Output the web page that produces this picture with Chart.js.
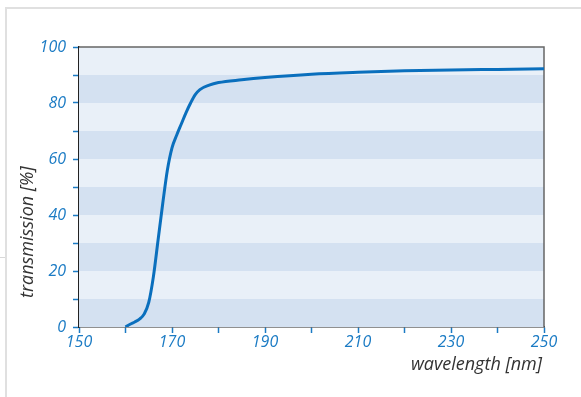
<!DOCTYPE html>
<html>
<head>
<meta charset="utf-8">
<script src="https://cdn.jsdelivr.net/npm/chart.js@4.4.1/dist/chart.umd.min.js"></script>
<style>
  html, body { margin: 0; padding: 0; background: #fff; }
  #wrap { position: relative; width: 581px; height: 397px; }
  #frame { position: absolute; left: 5px; top: 7px; right: 0; bottom: 0;
           border-left: 2px solid #e0e0e0; border-top: 2px solid #e0e0e0; }
  #stub { position: absolute; left: 0; top: 257px; width: 5px; height: 1px; background: #d8d8d8; }
  canvas { position: absolute; left: 0; top: 0; }
</style>
</head>
<body>
<div id="wrap">
  <div id="frame"></div>
  <div id="stub"></div>
  <canvas id="transChart" width="581" height="397"></canvas>
</div>
<script>
// Transmission curve
const wavelength = [160, 161, 162, 163, 164, 165, 166, 167, 168, 169, 170, 171, 172, 173, 174, 175, 176, 178, 180, 185, 190, 200, 210, 220, 230, 240, 250];
const transmission = [0, 1.0, 1.8, 2.8, 4.6, 8.8, 18, 31, 44, 56, 64, 68.5, 72.5, 76.5, 80, 83, 84.8, 86.4, 87.3, 88.3, 89.1, 90.3, 91.0, 91.5, 91.8, 92.0, 92.2];

const xTicks = [150, 160, 170, 180, 190, 200, 210, 220, 230, 240, 250];
const yTicks = [0, 10, 20, 30, 40, 50, 60, 70, 80, 90, 100];

const xTitle = 'wavelength [nm]';
const yTitle = 'transmission [%]';

const blue = '#1b7bc4';
const lineBlue = '#0a6fbd';
const fontFamily = '"Open Sans", sans-serif';

// alternating horizontal bands behind the curve, plus frame and axis titles
const bandPlugin = {
    id: 'bands',
    beforeDatasetsDraw(chart) {
        const { ctx, chartArea: a, scales: { y } } = chart;
        ctx.save();
        ctx.fillStyle = '#e9f0f8';
        ctx.fillRect(a.left, a.top, a.right - a.left, a.bottom - a.top);
        ctx.fillStyle = '#d4e1f1';
        for (let v = 0; v < 100; v += 20) {
            const y0 = y.getPixelForValue(v);
            const y1 = y.getPixelForValue(v + 10);
            ctx.fillRect(a.left, y1, a.right - a.left, y0 - y1);
        }
        // top and right border
        ctx.strokeStyle = '#666';
        ctx.lineWidth = 1.5;
        ctx.beginPath();
        ctx.moveTo(a.left, a.top);
        ctx.lineTo(a.right, a.top);
        ctx.lineTo(a.right, a.bottom);
        ctx.stroke();
        ctx.restore();
    },
    afterDraw(chart) {
        const { ctx, chartArea: a } = chart;
        ctx.save();
        ctx.fillStyle = '#333';
        ctx.font = 'italic 18px ' + fontFamily;
        ctx.textBaseline = 'middle';
        ctx.textAlign = 'right';
        ctx.fillText(xTitle, a.right - 2, a.bottom + 38);
        ctx.translate(28, a.bottom - 29);
        ctx.rotate(-Math.PI / 2);
        ctx.textAlign = 'left';
        ctx.fillText(yTitle, 0, 0);
        ctx.restore();
    }
};

const tickFont = { family: fontFamily, size: 16, style: 'italic' };

new Chart(document.getElementById('transChart'), {
    type: 'scatter',
    data: {
        datasets: [{
            data: wavelength.map((w, i) => ({ x: w, y: transmission[i] })),
            showLine: true,
            borderColor: lineBlue,
            borderWidth: 3,
            pointRadius: 0,
            cubicInterpolationMode: 'monotone'
        }]
    },
    options: {
        responsive: false,
        animation: false,
        layout: { padding: { top: 47, right: 37, left: 0, bottom: 0 } },
        plugins: { legend: { display: false }, tooltip: { enabled: false } },
        scales: {
            x: {
                type: 'linear',
                min: 150,
                max: 250,
                afterBuildTicks: s => { s.ticks = xTicks.map(v => ({ value: v })); },
                afterFit: s => { s.height = 70; },
                border: { color: '#222', width: 1.5 },
                grid: { drawOnChartArea: false, tickLength: 6, tickColor: blue, tickWidth: 1.5 },
                ticks: {
                    color: blue,
                    font: tickFont,
                    padding: 0,
                    maxRotation: 0,
                    autoSkip: false,
                    callback: v => (v % 20 === 10 ? v : '')
                }
            },
            y: {
                min: 0,
                max: 100,
                afterBuildTicks: s => { s.ticks = yTicks.map(v => ({ value: v })); },
                afterFit: s => { s.width = 79; },
                border: { color: '#222', width: 1.5 },
                grid: { drawOnChartArea: false, tickLength: 6, tickColor: blue, tickWidth: 1.5 },
                ticks: {
                    color: blue,
                    font: tickFont,
                    padding: 7,
                    autoSkip: false,
                    callback: v => (v % 20 === 0 ? v : '')
                }
            }
        }
    },
    plugins: [bandPlugin]
});
</script>
</body>
</html>
